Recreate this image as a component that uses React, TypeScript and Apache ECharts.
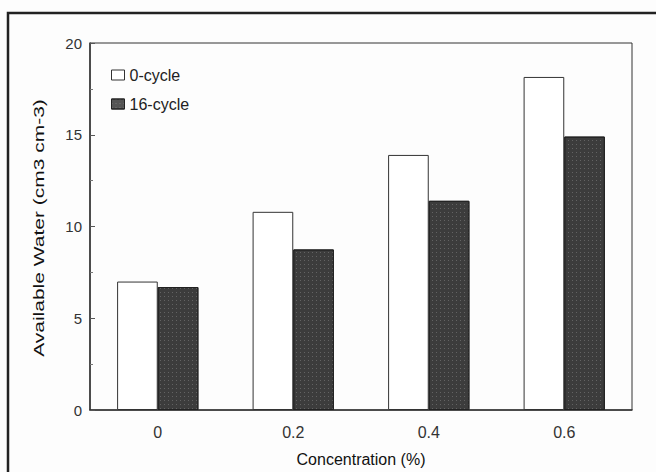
import React, { useEffect, useRef } from "react";
import * as echarts from "echarts";

const categories = ["0", "0.2", "0.4", "0.6"];
const cycle0 = [7.0, 10.8, 13.9, 18.15];
const cycle16 = [6.7, 8.75, 11.4, 14.9];
const yTicks = [0, 5, 10, 15, 20];
const yAxisTitle = "Available Water (cm3 cm-3)";
const xAxisTitle = "Concentration (%)";

export default function App() {
  const ref = useRef<HTMLDivElement>(null);
  useEffect(() => {
    const chart = echarts.init(ref.current!, null, { renderer: "svg" });
    const font = "Liberation Sans, Arial, sans-serif";
    chart.setOption({
      animation: false,
      backgroundColor: "#fdfdfd",
      textStyle: { fontFamily: font },
      grid: {
        left: 90,
        right: 24,
        top: 43,
        bottom: 58,
        show: true,
        borderColor: "#333",
        borderWidth: 1,
        backgroundColor: "transparent",
      },
      legend: {
        left: 106,
        top: 62,
        orient: "vertical",
        icon: "rect",
        itemWidth: 13,
        itemHeight: 10,
        itemGap: 13,
        textStyle: { fontSize: 16, color: "#222", fontFamily: font },
        data: [
          { name: "0-cycle", itemStyle: { color: "#ffffff", borderColor: "#333", borderWidth: 1 } },
          { name: "16-cycle", itemStyle: { color: "#555", borderColor: "#222", borderWidth: 1 } },
        ],
      },
      xAxis: {
        type: "category",
        data: categories,
        name: xAxisTitle,
        nameLocation: "middle",
        nameGap: 41,
        nameTextStyle: { fontSize: 16, color: "#111", fontFamily: font },
        axisLine: { lineStyle: { color: "#333", width: 1.5 } },
        axisTick: { show: false },
        axisLabel: { fontSize: 16, color: "#333", margin: 14, fontFamily: font },
      },
      yAxis: {
        type: "value",
        min: yTicks[0],
        max: yTicks[yTicks.length - 1],
        interval: 5,
        axisLine: { show: true, lineStyle: { color: "#333", width: 1.5 } },
        axisTick: { show: true, inside: true, length: 5, lineStyle: { color: "#555" } },
        minorTick: { show: true, splitNumber: 2, length: 3, lineStyle: { color: "#777" } },
        splitLine: { show: false },
        axisLabel: { fontSize: 15, color: "#333", margin: 8, fontFamily: font },
      },
      series: [
        {
          name: "0-cycle",
          type: "bar",
          data: cycle0,
          barGap: "0%",
          barCategoryGap: "40%",
          itemStyle: { color: "#ffffff", borderColor: "#333", borderWidth: 1 },
        },
        {
          name: "16-cycle",
          type: "bar",
          data: cycle16,
          itemStyle: {
            color: "#3c3c3c",
            borderColor: "#222",
            borderWidth: 1,
            decal: {
              symbol: "rect",
              symbolSize: 1,
              color: "rgba(255,255,255,0.2)",
              dashArrayX: [1, 3],
              dashArrayY: [1, 3],
              rotation: 0,
            },
          },
        },
      ],
      graphic: [
        {
          type: "rect",
          shape: { x: 8, y: 13, width: 680, height: 500 },
          style: { fill: "none", stroke: "#222", lineWidth: 2.5 },
          silent: true,
        },
        {
          type: "text",
          x: 39,
          y: 228,
          rotation: Math.PI / 2,
          scaleX: 1.4,
          style: {
            text: yAxisTitle,
            fontSize: 15,
            fontFamily: font,
            fill: "#111",
            align: "center",
            verticalAlign: "middle",
          },
          silent: true,
        },
      ],
    });
    return () => chart.dispose();
  }, []);
  return (
    <div
      ref={ref}
      style={{ position: "fixed", left: 0, top: 0, width: 656, height: 472 }}
    />
  );
}
